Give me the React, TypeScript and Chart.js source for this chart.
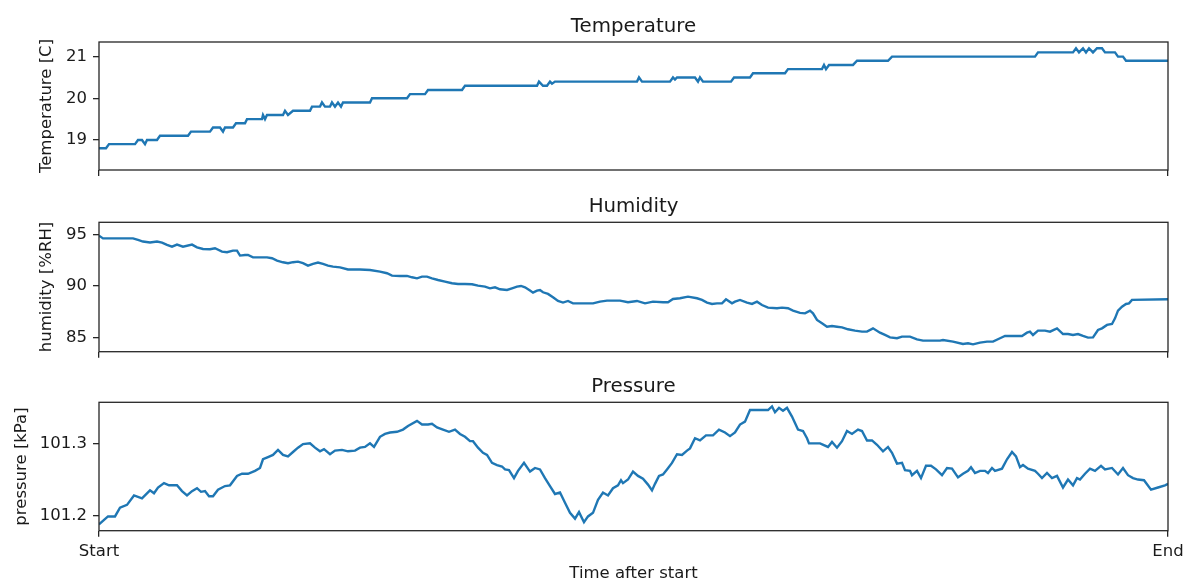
import React, { useEffect, useRef } from 'react';
import { Chart, registerables } from 'chart.js';

Chart.register(...registerables);

// ---------- data ----------
const X_MAX = 1069;
const X_TICK_LABELS = ['Start', 'End'];
const X_AXIS_TITLE = 'Time after start';

const tempTimes = [
  0, 7, 10, 36, 39, 43, 46, 48, 58, 61,
  89, 92, 111, 114, 121, 124, 126, 134, 137, 146,
  148, 163, 164, 166, 168, 184, 186, 189, 194, 211,
  213, 221, 223, 226, 231, 233, 236, 239, 242, 244,
  271, 273, 308, 311, 326, 329, 363, 366, 438, 440,
  444, 448, 451, 453, 456, 538, 540, 543, 571, 574,
  576, 578, 596, 599, 601, 604, 632, 635, 651, 654,
  686, 689, 723, 725, 727, 730, 754, 758, 789, 793,
  936, 939, 974, 977, 980, 984, 987, 990, 994, 998,
  1003, 1006, 1016, 1019, 1024, 1027, 1069,
];
const tempValues = [
  18.8, 18.8, 18.9, 18.9, 19.0, 19.0, 18.9, 19.0, 19.0, 19.1,
  19.1, 19.2, 19.2, 19.3, 19.3, 19.2, 19.3, 19.3, 19.4, 19.4,
  19.5, 19.5, 19.6, 19.5, 19.6, 19.6, 19.7, 19.6, 19.7, 19.7,
  19.8, 19.8, 19.9, 19.8, 19.8, 19.9, 19.8, 19.9, 19.8, 19.9,
  19.9, 20.0, 20.0, 20.1, 20.1, 20.2, 20.2, 20.3, 20.3, 20.4,
  20.3, 20.3, 20.4, 20.35, 20.4, 20.4, 20.5, 20.4, 20.4, 20.5,
  20.45, 20.5, 20.5, 20.4, 20.5, 20.4, 20.4, 20.5, 20.5, 20.6,
  20.6, 20.7, 20.7, 20.8, 20.7, 20.8, 20.8, 20.9, 20.9, 21.0,
  21.0, 21.1, 21.1, 21.2, 21.1, 21.2, 21.1, 21.2, 21.1, 21.2,
  21.2, 21.1, 21.1, 21.0, 21.0, 20.9, 20.9,
];

const humTimes = [
  0, 4, 34, 39, 44, 51, 58, 63, 68, 73,
  78, 84, 93, 98, 104, 111, 116, 123, 128, 134,
  138, 141, 146, 149, 154, 168, 173, 178, 184, 189,
  194, 199, 204, 209, 214, 219, 224, 229, 234, 241,
  249, 261, 271, 281, 288, 293, 301, 308, 313, 318,
  323, 328, 333, 339, 346, 353, 359, 366, 373, 379,
  386, 391, 396, 401, 408, 413, 418, 422, 426, 431,
  434, 438, 441, 444, 449, 454, 459, 464, 469, 474,
  488, 494, 501, 508, 521, 529, 538, 546, 554, 564,
  569, 574, 581, 589, 598, 603, 608, 613, 618, 623,
  627, 633, 636, 641, 648, 653, 658, 663, 669, 678,
  683, 689, 694, 701, 706, 711, 714, 718, 723, 728,
  733, 738, 743, 749, 756, 763, 768, 774, 781, 786,
  791, 798, 803, 811, 818, 824, 834, 841, 844, 854,
  864, 869, 874, 881, 888, 894, 901, 906, 923, 928,
  931, 934, 939, 946, 951, 958, 964, 969, 974, 979,
  984, 989, 994, 999, 1003, 1008, 1013, 1016, 1019, 1023,
  1027, 1030, 1033, 1069,
];
const humValues = [
  94.87, 94.6, 94.6, 94.45, 94.3, 94.2, 94.3, 94.2, 93.97, 93.8,
  94.0, 93.8, 94.0, 93.74, 93.58, 93.55, 93.65, 93.32, 93.26, 93.42,
  93.42, 92.94, 93.0, 93.0, 92.77, 92.77, 92.68, 92.45, 92.29, 92.2,
  92.3, 92.35, 92.2, 91.97, 92.13, 92.26, 92.13, 91.97, 91.87, 91.8,
  91.6, 91.6, 91.55, 91.39, 91.23, 91.0, 90.97, 90.97, 90.84, 90.74,
  90.9, 90.9, 90.74, 90.58, 90.42, 90.26, 90.19, 90.19, 90.16, 90.03,
  89.94, 89.77, 89.87, 89.68, 89.61, 89.77, 89.94, 90.0, 89.87, 89.55,
  89.35, 89.55, 89.61, 89.39, 89.23, 88.9, 88.55, 88.39, 88.55, 88.32,
  88.32, 88.32, 88.48, 88.58, 88.58, 88.42, 88.55, 88.32, 88.48, 88.42,
  88.42, 88.74, 88.81, 88.97, 88.81, 88.65, 88.39, 88.26, 88.32, 88.32,
  88.71, 88.32, 88.48, 88.65, 88.39, 88.26, 88.48, 88.16, 87.9, 87.84,
  87.9, 87.84, 87.61, 87.4, 87.35, 87.61, 87.35, 86.71, 86.39, 86.06,
  86.13, 86.06, 86.0, 85.81, 85.68, 85.58, 85.58, 85.9, 85.48, 85.26,
  85.03, 84.94, 85.1, 85.1, 84.84, 84.71, 84.71, 84.71, 84.77, 84.61,
  84.39, 84.45, 84.35, 84.52, 84.61, 84.61, 84.94, 85.16, 85.16, 85.48,
  85.58, 85.26, 85.68, 85.68, 85.58, 85.9, 85.35, 85.35, 85.26, 85.35,
  85.16, 85.0, 85.03, 85.74, 85.9, 86.23, 86.32, 86.87, 87.61, 88.0,
  88.26, 88.32, 88.65, 88.71,
];

const presTimes = [
  0, 9, 16, 21, 28, 35, 43, 51, 55, 59,
  65, 70, 78, 83, 88, 93, 98, 102, 106, 110,
  114, 119, 126, 131, 138, 143, 149, 156, 161, 164,
  169, 174, 179, 184, 189, 194, 199, 204, 211, 216,
  221, 225, 231, 236, 243, 249, 256, 261, 266, 271,
  275, 281, 286, 291, 298, 304, 309, 318, 323, 329,
  333, 338, 344, 350, 356, 361, 366, 371, 374, 379,
  384, 388, 393, 398, 403, 406, 410, 415, 419, 425,
  431, 436, 441, 446, 451, 456, 461, 466, 471, 476,
  480, 485, 489, 494, 499, 504, 509, 514, 519, 522,
  524, 529, 534, 539, 544, 549, 553, 556, 560, 564,
  568, 573, 578, 583, 588, 591, 596, 601, 607, 614,
  620, 626, 631, 636, 641, 646, 651, 659, 669, 673,
  676, 680, 684, 688, 693, 699, 704, 708, 710, 721,
  729, 733, 738, 743, 748, 753, 759, 763, 768, 773,
  778, 784, 789, 793, 798, 803, 806, 811, 813, 818,
  822, 827, 832, 837, 843, 848, 853, 859, 864, 869,
  872, 876, 881, 886, 889, 893, 896, 903, 908, 913,
  917, 921, 924, 929, 936, 939, 943, 948, 953, 958,
  964, 969, 974, 978, 981, 986, 991, 996, 1002, 1006,
  1013, 1019, 1024, 1029, 1034, 1039, 1045, 1052, 1059, 1066,
  1069,
];
const presValues = [
  101.188, 101.199, 101.199, 101.211, 101.215, 101.228, 101.224, 101.235, 101.231, 101.239,
  101.245, 101.242, 101.242, 101.234, 101.228, 101.234, 101.238, 101.233, 101.234, 101.227,
  101.227, 101.236, 101.241, 101.242, 101.255, 101.258, 101.258, 101.262, 101.266, 101.278,
  101.281, 101.284, 101.291, 101.284, 101.282, 101.288, 101.294, 101.299, 101.300, 101.294,
  101.289, 101.292, 101.285, 101.290, 101.291, 101.289, 101.290, 101.294, 101.295, 101.300,
  101.295, 101.309, 101.313, 101.315, 101.316, 101.319, 101.324, 101.331, 101.326, 101.326,
  101.327, 101.322, 101.319, 101.316, 101.319, 101.313, 101.309, 101.303, 101.303, 101.294,
  101.287, 101.284, 101.273, 101.270, 101.268, 101.264, 101.263, 101.252, 101.262, 101.273,
  101.261, 101.266, 101.264, 101.252, 101.241, 101.230, 101.232, 101.218, 101.204, 101.196,
  101.205, 101.191, 101.199, 101.204, 101.222, 101.232, 101.228, 101.238, 101.242, 101.249,
  101.245, 101.250, 101.261, 101.255, 101.251, 101.243, 101.235, 101.244, 101.255, 101.257,
  101.264, 101.273, 101.285, 101.284, 101.290, 101.293, 101.307, 101.304, 101.311, 101.311,
  101.319, 101.315, 101.310, 101.315, 101.326, 101.330, 101.346, 101.346, 101.346, 101.351,
  101.343, 101.349, 101.345, 101.349, 101.337, 101.319, 101.317, 101.307, 101.300, 101.300,
  101.295, 101.302, 101.294, 101.303, 101.317, 101.313, 101.319, 101.317, 101.304, 101.304,
  101.298, 101.289, 101.295, 101.287, 101.272, 101.273, 101.263, 101.262, 101.256, 101.262,
  101.252, 101.269, 101.269, 101.264, 101.256, 101.266, 101.265, 101.253, 101.258, 101.262,
  101.267, 101.259, 101.262, 101.262, 101.259, 101.266, 101.262, 101.265, 101.278, 101.288,
  101.282, 101.267, 101.270, 101.265, 101.262, 101.258, 101.252, 101.259, 101.252, 101.255,
  101.239, 101.250, 101.242, 101.252, 101.250, 101.258, 101.265, 101.262, 101.269, 101.264,
  101.266, 101.257, 101.266, 101.256, 101.252, 101.250, 101.249, 101.236, 101.239, 101.242,
  101.244,
];

const tempTicks = [19, 20, 21];
const humTicks = [85, 90, 95];
const presTicks = [101.2, 101.3];

// ---------- styling ----------
const FONT = "'DejaVu Sans', sans-serif";
const TEXT = '#1a1a1a';
const AXIS = '#262626';
const LINE = '#1f77b4';

type Panel = {
  key: string;
  title: string;
  yLabel: string;
  times: number[];
  values: number[];
  yMin: number;
  yMax: number;
  yTicks: number[];
  yDecimals: number;
  showX: boolean;
  top: number;
  height: number;
  titlePadTop: number;
  titlePadBottom: number;
  xAxisHeight: number;
  yTitlePad: number;
};

const PANELS: Panel[] = [
  {
    key: 't', title: 'Temperature', yLabel: 'Temperature [C]',
    times: tempTimes, values: tempValues, yMin: 18.28, yMax: 21.35, yTicks: tempTicks, yDecimals: 0,
    showX: false, top: 0, height: 190, titlePadTop: 16.8, titlePadBottom: 5.2, xAxisHeight: 20, yTitlePad: 37.1,
  },
  {
    key: 'h', title: 'Humidity', yLabel: 'humidity [%RH]',
    times: humTimes, values: humValues, yMin: 83.64, yMax: 96.16, yTicks: humTicks, yDecimals: 0,
    showX: false, top: 190, height: 180, titlePadTop: 6.8, titlePadBottom: 5.5, xAxisHeight: 18.3, yTitlePad: 37.1,
  },
  {
    key: 'p', title: 'Pressure', yLabel: 'pressure [kPa]',
    times: presTimes, values: presValues, yMin: 101.1793, yMax: 101.3567, yTicks: presTicks, yDecimals: 1,
    showX: true, top: 370, height: 212, titlePadTop: 6.8, titlePadBottom: 5.5, xAxisHeight: 51.3, yTitlePad: 11.6,
  },
];

const framePlugin = {
  id: 'frame',
  afterDraw(chart: any) {
    const { ctx, chartArea: a } = chart;
    ctx.save();
    ctx.strokeStyle = AXIS;
    ctx.lineWidth = 1.3;
    ctx.strokeRect(a.left, a.top, a.right - a.left, a.bottom - a.top);
    ctx.restore();
  },
};

function PanelChart({ p }: { p: Panel }) {
  const ref = useRef<HTMLCanvasElement>(null);
  useEffect(() => {
    if (!ref.current) return;
    const data = p.times.map((t, i) => ({ x: t, y: p.values[i] }));
    const chart = new Chart(ref.current, {
      type: 'line',
      data: {
        datasets: [
          {
            data,
            borderColor: LINE,
            borderWidth: 2.4,
            pointRadius: 0,
            tension: 0,
            fill: false,
          },
        ],
      },
      options: {
        animation: false,
        responsive: false,
        events: [],
        layout: { padding: { left: 0, right: 24, top: 0, bottom: 0 } },
        plugins: {
          legend: { display: false },
          tooltip: { enabled: false },
          title: {
            display: true,
            text: p.title,
            fullSize: false,
            color: TEXT,
            font: { family: FONT, size: 19.8, weight: 'normal', lineHeight: '20px' },
            padding: { top: p.titlePadTop, bottom: p.titlePadBottom },
          },
        },
        scales: {
          x: {
            type: 'linear',
            min: 0,
            max: X_MAX,
            afterBuildTicks: (s: any) => {
              s.ticks = [{ value: 0 }, { value: X_MAX }];
            },
            afterFit: (s: any) => {
              s.height = p.xAxisHeight;
            },
            grid: {
              display: true,
              drawOnChartArea: false,
              drawTicks: true,
              tickLength: 6,
              color: AXIS,
              lineWidth: 1.3,
            },
            border: { display: false },
            ticks: {
              display: p.showX,
              autoSkip: false,
              maxRotation: 0,
              padding: 5.5,
              color: TEXT,
              font: { family: FONT, size: 16.5 },
              callback: (v: any) => (Number(v) === 0 ? X_TICK_LABELS[0] : X_TICK_LABELS[1]),
            },
            title: {
              display: p.showX,
              text: X_AXIS_TITLE,
              color: TEXT,
              font: { family: FONT, size: 16.5, lineHeight: '14px' },
              padding: { top: 0, bottom: 1.0 },
            },
          },
          y: {
            type: 'linear',
            min: p.yMin,
            max: p.yMax,
            afterBuildTicks: (s: any) => {
              s.ticks = p.yTicks.map((v) => ({ value: v }));
            },
            afterFit: (s: any) => {
              s.width = 99;
            },
            grid: {
              display: true,
              drawOnChartArea: false,
              drawTicks: true,
              tickLength: 6,
              color: AXIS,
              lineWidth: 1.3,
            },
            border: { display: false },
            ticks: {
              padding: 6,
              color: TEXT,
              font: { family: FONT, size: 16.5 },
              callback: (v: any) => Number(v).toFixed(p.yDecimals),
            },
            title: {
              display: true,
              text: p.yLabel,
              color: TEXT,
              font: { family: FONT, size: 16.5 },
              padding: { top: p.yTitlePad, bottom: 0 },
            },
          },
        },
      },
      plugins: [framePlugin],
    } as any);
    return () => chart.destroy();
  }, [p]);
  return (
    <canvas
      ref={ref}
      width={1192}
      height={p.height}
      style={{ position: 'absolute', left: 0, top: p.top, width: 1192, height: p.height, display: 'block' }}
    />
  );
}

export default function App() {
  return (
    <div style={{ position: 'absolute', left: 0, top: 0, width: 1192, height: 582, background: '#fff' }}>
      {PANELS.map((p) => (
        <PanelChart key={p.key} p={p} />
      ))}
    </div>
  );
}
